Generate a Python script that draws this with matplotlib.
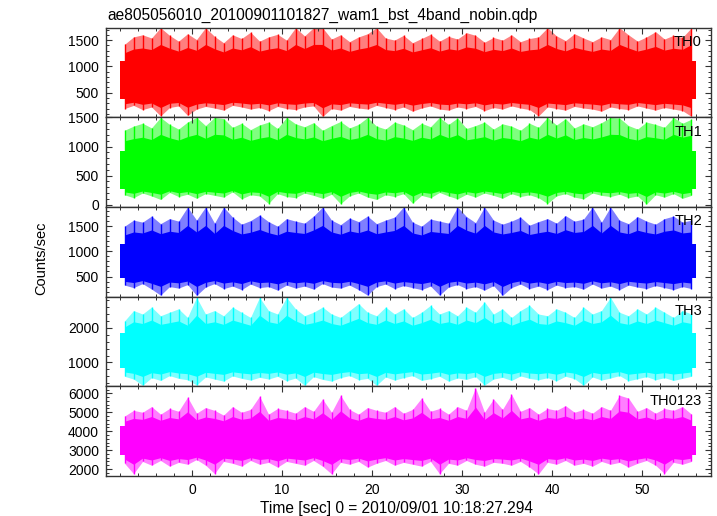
import numpy as np
import matplotlib.pyplot as plt
from matplotlib.ticker import MultipleLocator

plt.rcParams['font.family'] = ['Liberation Sans', 'DejaVu Sans']

title = "ae805056010_20100901101827_wam1_bst_4band_nobin.qdp"
xlabel = "Time [sec] 0 = 2010/09/01 10:18:27.294"
ylabel = "Counts/sec"

# light curve read per 1-s bin from -8 s to 56 s: max and min of the counts
t_start, t_stop = -8, 56

th0_hi = [1420, 1560, 1600, 1540, 1735, 1590, 1480, 1620, 1510, 1735,
          1570, 1450, 1600, 1530, 1650, 1480, 1560, 1610, 1500, 1735,
          1580, 1735, 1735, 1520, 1600, 1470, 1560, 1620, 1735, 1540,
          1500, 1590, 1450, 1530, 1610, 1480, 1570, 1520, 1640, 1590,
          1460, 1550, 1500, 1600, 1470, 1530, 1560, 1735, 1580, 1490,
          1620, 1540, 1470, 1560, 1510, 1735, 1600, 1480, 1560, 1660,
          1520, 1590, 1550, 1735]
th0_lo = [200, 260, 180, 230, 60, 220, 250, 70, 190, 240,
          210, 170, 260, 230, 190, 220, 160, 240, 200, 180,
          230, 250, 50, 200, 170, 240, 210, 190, 260, 220,
          180, 230, 150, 210, 250, 190, 170, 230, 200, 240,
          160, 220, 190, 250, 210, 180, 60, 230, 200, 170,
          240, 210, 190, 150, 230, 200, 180, 250, 210, 170,
          220, 190, 160, 50]

th1_hi = [1280, 1350, 1400, 1320, 1500, 1380, 1300, 1420, 1500, 1360,
          1500, 1480, 1330, 1400, 1290, 1370, 1420, 1310, 1500, 1390,
          1340, 1410, 1280, 1360, 1430, 1320, 1380, 1500, 1350, 1300,
          1420, 1370, 1290, 1400, 1340, 1500, 1380, 1490, 1310, 1360,
          1420, 1300, 1390, 1350, 1280, 1400, 1330, 1500, 1370, 1480,
          1320, 1390, 1340, 1410, 1500, 1490, 1360, 1300, 1420, 1380,
          1330, 1500, 1400, 1470]
th1_lo = [170, 120, 200, 150, 90, 210, 140, 180, 110, 190,
          160, 130, 220, 100, 170, 150, 20, 190, 140, 120,
          200, 160, 110, 180, 15, 150, 200, 130, 90, 170,
          140, 190, 25, 160, 120, 210, 150, 100, 180, 130,
          200, 160, 110, 190, 140, 170, 120, 20, 150, 190,
          130, 100, 200, 160, 140, 180, 120, 150, 10, 170,
          130, 190, 110, 160]

th2_hi = [1500, 1620, 1580, 1700, 1550, 1650, 1600, 1880, 1620, 1880,
          1560, 1880, 1680, 1540, 1610, 1720, 1590, 1500, 1650, 1600,
          1560, 1700, 1880, 1620, 1530, 1660, 1590, 1700, 1550, 1620,
          1680, 1880, 1580, 1500, 1640, 1600, 1560, 1880, 1690, 1570,
          1880, 1620, 1540, 1600, 1680, 1520, 1590, 1650, 1560, 1710,
          1600, 1640, 1880, 1580, 1880, 1620, 1550, 1690, 1600, 1540,
          1650, 1700, 1580, 1620]
th2_lo = [330, 280, 360, 250, 130, 300, 270, 340, 125, 290,
          360, 260, 310, 240, 350, 280, 300, 230, 330, 270,
          310, 250, 360, 290, 270, 330, 240, 130, 300, 350,
          260, 320, 280, 240, 310, 130, 290, 340, 260, 300,
          230, 320, 125, 280, 350, 260, 310, 240, 330, 280,
          300, 250, 350, 270, 310, 240, 330, 290, 260, 320,
          280, 240, 300, 260]

th3_hi = [2200, 2500, 2400, 2600, 2350, 2450, 2550, 2300, 2880, 2400,
          2500, 2350, 2600, 2450, 2300, 2880, 2500, 2400, 2880, 2550,
          2350, 2450, 2600, 2400, 2300, 2500, 2700, 2450, 2350, 2600,
          2400, 2550, 2300, 2450, 2650, 2400, 2500, 2350, 2600, 2450,
          2750, 2400, 2550, 2300, 2500, 2650, 2400, 2350, 2550, 2450,
          2300, 2600, 2400, 2500, 2880, 2450, 2350, 2550, 2400, 2600,
          2450, 2300, 2500, 2400]
th3_lo = [600, 520, 340, 560, 480, 620, 540, 500, 350, 580,
          520, 460, 610, 540, 490, 570, 520, 600, 470, 550,
          340, 590, 510, 460, 560, 620, 500, 540, 340, 580,
          490, 560, 620, 480, 530, 600, 460, 550, 510, 590,
          345, 520, 570, 480, 610, 540, 500, 560, 470, 600,
          530, 340, 580, 490, 550, 620, 470, 530, 590, 500,
          560, 480, 540, 600]

th0123_hi = [4800, 5100, 5000, 5300, 4900, 5200, 5050, 5800, 4950, 5250,
             5100, 4850, 5300, 5000, 5150, 5850, 4900, 5200, 5100, 4950,
             5300, 5050, 5700, 5000, 5900, 5150, 4900, 5250, 5100, 5000,
             5300, 4950, 5150, 5750, 5050, 5200, 4900, 5300, 5100, 6300,
             5000, 5700, 5150, 5950, 5050, 5250, 4900, 5200, 5100, 5350,
             5000, 5150, 4950, 5300, 5100, 5900, 5750, 5050, 5250, 4950,
             5200, 5100, 5300, 4900]
th0123_lo = [2300, 1750, 2400, 2200, 2450, 2150, 2350, 2250, 2500, 2200,
             1760, 2400, 2300, 2150, 2450, 2250, 2350, 2100, 2400, 2300,
             2200, 2450, 2150, 1740, 2350, 2250, 2400, 2100, 2300, 2450,
             2200, 2350, 2250, 2150, 2400, 1750, 2300, 2200, 2450, 2250,
             2150, 2350, 2300, 2200, 2400, 2100, 1740, 2350, 2250, 2450,
             2200, 2300, 2150, 2400, 2250, 2350, 2100, 2300, 2450, 2200,
             1760, 2350, 2250, 2400]

# dense (solid) part of each light curve: low, high
th0_core = [380, 1100]
th1_core = [270, 920]
th2_core = [480, 1150]
th3_core = [850, 1850]
th0123_core = [2750, 4250]

names = ["TH0", "TH1", "TH2", "TH3", "TH0123"]
his = [th0_hi, th1_hi, th2_hi, th3_hi, th0123_hi]
los = [th0_lo, th1_lo, th2_lo, th3_lo, th0123_lo]
cores = [th0_core, th1_core, th2_core, th3_core, th0123_core]
colors = ["#ff0000", "#00ff00", "#0000ff", "#00ffff", "#ff00ff"]
ylims = [(33, 1735), (-40, 1501), (100, 1880), (310, 2900), (1630, 6370)]
majors = [500, 500, 500, 1000, 1000]
minors = [100, 100, 100, 200, 200]

W, H = 717, 516
left, right = 106, 711
top, bottom = 27.7, 476
ph = (bottom - top) / 5

fig = plt.figure(figsize=(W / 100, H / 100), dpi=100)

edges = np.arange(t_start, t_stop + 1)
centers = edges[:-1] + 0.5

frame = "#333333"
for i in range(5):
    ax = fig.add_axes([left / W, 1 - (top + ph * (i + 1)) / H, (right - left) / W, ph / H])
    hi = np.array(his[i])
    lo = np.array(los[i])
    c_lo, c_hi = cores[i]
    c = colors[i]
    # faint outer envelope
    ax.fill_between(centers, lo, hi, color=c, alpha=0.5, lw=0)
    # dense band, its edge following the extremes
    ax.fill_between(centers, (lo + c_lo) / 2, (hi + c_hi) / 2, color=c, lw=0)
    ax.fill_between([t_start, t_stop], c_lo, c_hi, color=c, lw=0)
    # spikes
    ax.vlines(centers, lo, hi, color=c, lw=1.0)

    ax.set_xlim(-9.56, 57.67)
    ax.set_ylim(*ylims[i])
    ax.xaxis.set_major_locator(MultipleLocator(10))
    ax.xaxis.set_minor_locator(MultipleLocator(2))
    ax.yaxis.set_major_locator(MultipleLocator(majors[i]))
    ax.yaxis.set_minor_locator(MultipleLocator(minors[i]))
    ax.tick_params(which='both', direction='in', top=True, right=True,
                   color=frame, labelsize=10, pad=5)
    ax.tick_params(which='major', length=4, width=0.8)
    ax.tick_params(which='minor', length=2.2, width=0.7)
    for s in ax.spines.values():
        s.set_color(frame)
        s.set_linewidth(1.0)
    if i < 4:
        ax.tick_params(labelbottom=False)
    ax.text(0.985, 0.92, names[i], transform=ax.transAxes, ha='right', va='top',
            fontsize=10.5)

fig.text(107 / W, 1 - 19.5 / H, title, ha='left', va='baseline', fontsize=11.2)
fig.text(397 / W, 1 - 508 / H, xlabel, ha='center', va='center', fontsize=11.2)
fig.text(41 / W, 1 - 258 / H, ylabel, ha='center', va='center', rotation=90, fontsize=10.5)

fig.savefig("out.png", dpi=100)
